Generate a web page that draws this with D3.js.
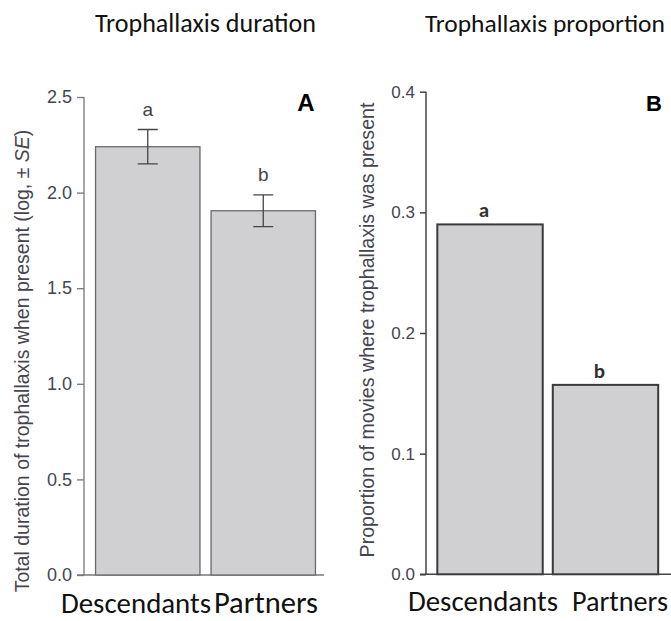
<!DOCTYPE html>
<html><head><meta charset="utf-8">
<script src="https://cdn.jsdelivr.net/npm/d3@7/dist/d3.min.js"></script>
<style>body{margin:0;background:#fff}svg{display:block}</style>
</head><body>
<script>
// ---- data ----
const categories = ["Descendants", "Partners"];
const durationMean = [2.24, 1.905];
const durationSE = [0.09, 0.083];
const durationLetters = ["a", "b"];
const proportion = [0.29, 0.157];
const proportionLetters = ["a", "b"];
const ticksA = [0, 0.5, 1.0, 1.5, 2.0, 2.5];
const ticksB = [0, 0.1, 0.2, 0.3, 0.4];

const W = 671, H = 621;
const svg = d3.select("body").append("svg").attr("width", W).attr("height", H);
const FILL = "#d0d0d2";
const TITLEFONT = "Carlito, Calibri, Lato, 'Open Sans', sans-serif";
const AXFONT = "'Liberation Sans', Arial, sans-serif";

function fit(t, target) {
  t.attr("font-size", 100);
  const w = t.node().getComputedTextLength();
  t.attr("font-size", 100 * target / w);
  return t;
}

// titles
fit(svg.append("text").attr("x", 95).attr("y", 32).attr("font-family", TITLEFONT)
  .attr("fill", "#111").text("Trophallaxis duration"), 221);
fit(svg.append("text").attr("x", 425).attr("y", 32).attr("font-family", TITLEFONT)
  .attr("fill", "#111").text("Trophallaxis proportion"), 240);

// ---------- Panel A ----------
const yA = d3.scaleLinear().domain([0, 2.5]).range([575, 97]);
const xA = d3.scaleBand().domain(categories).range([84, 327]).paddingInner(0.096).paddingOuter(0.1);
const gA = svg.append("g");
const axA = gA.append("g").attr("transform", "translate(84,0)")
  .call(d3.axisLeft(yA).tickValues(ticksA).tickFormat(d3.format(".1f")).tickSize(7).tickPadding(5));
axA.select(".domain").attr("stroke", "#777").attr("stroke-width", 1.3).attr("d", `M0,${yA(2.5)}V${yA(0)}`);
axA.selectAll(".tick line").attr("stroke", "#777").attr("stroke-width", 1.3);
axA.selectAll(".tick text").attr("font-family", AXFONT).attr("font-size", 18).attr("fill", "#454550");
gA.append("line").attr("x1", 77).attr("x2", 324).attr("y1", yA(0)).attr("y2", yA(0))
  .attr("stroke", "#777").attr("stroke-width", 1.3);
gA.selectAll("rect.bar").data(categories).join("rect").attr("class", "bar")
  .attr("x", d => xA(d)).attr("width", xA.bandwidth())
  .attr("y", (d, i) => yA(durationMean[i])).attr("height", (d, i) => yA(0) - yA(durationMean[i]))
  .attr("fill", FILL).attr("stroke", "#6a6a6a").attr("stroke-width", 1.3);
const capA = 10;
categories.forEach((c, i) => {
  const cx = xA(c) + xA.bandwidth() / 2;
  const hi = yA(durationMean[i] + durationSE[i]), lo = yA(durationMean[i] - durationSE[i]);
  gA.append("path").attr("d", `M${cx - capA},${hi}H${cx + capA}M${cx},${hi}V${lo}M${cx - capA},${lo}H${cx + capA}`)
    .attr("stroke", "#444").attr("stroke-width", 1.3).attr("fill", "none");
  gA.append("text").attr("x", cx).attr("y", hi - 14).attr("text-anchor", "middle")
    .attr("font-family", AXFONT).attr("font-size", 19).attr("fill", "#444").text(durationLetters[i]);
});
gA.append("text").attr("x", 306).attr("y", 111).attr("text-anchor", "middle")
  .attr("font-family", AXFONT).attr("font-weight", "bold").attr("font-size", 24).attr("fill", "#000").text("A");
const ylA = gA.append("text").attr("transform", "translate(29,361) rotate(-90)").attr("text-anchor", "middle")
  .attr("font-family", AXFONT).attr("fill", "#454550");
ylA.append("tspan").text("Total duration of trophallaxis when present (log, \u00b1 ");
ylA.append("tspan").attr("font-style", "italic").text("SE");
ylA.append("tspan").text(")");
fit(ylA, 463);
const xlabA = [{x: 61, w: 150}, {x: 214, w: 104}];
categories.forEach((c, i) => {
  fit(gA.append("text").attr("x", xlabA[i].x).attr("y", 613).attr("font-family", TITLEFONT)
    .attr("fill", "#111").text(c), xlabA[i].w);
});

// ---------- Panel B ----------
const yB = d3.scaleLinear().domain([0, 0.4]).range([574.3, 91.7]);
const xB = d3.scaleBand().domain(categories).range([426, 669.5]).paddingInner(0.087).paddingOuter(0.098);
const gB = svg.append("g");
const axB = gB.append("g").attr("transform", "translate(426,0)")
  .call(d3.axisLeft(yB).tickValues(ticksB).tickFormat(d3.format(".1f")).tickSize(6).tickPadding(5));
axB.select(".domain").attr("stroke", "#444").attr("stroke-width", 1.5).attr("d", `M0,${yB(0.4)}V${yB(0)}`);
axB.selectAll(".tick line").attr("stroke", "#444").attr("stroke-width", 1.5);
axB.selectAll(".tick text").attr("font-family", AXFONT).attr("font-size", 17).attr("fill", "#454550");
gB.append("line").attr("x1", 420).attr("x2", 671).attr("y1", yB(0)).attr("y2", yB(0))
  .attr("stroke", "#444").attr("stroke-width", 1.5);
gB.selectAll("rect.bar").data(categories).join("rect").attr("class", "bar")
  .attr("x", d => xB(d)).attr("width", xB.bandwidth())
  .attr("y", (d, i) => yB(proportion[i])).attr("height", (d, i) => yB(0) - yB(proportion[i]))
  .attr("fill", FILL).attr("stroke", "#3a3a3a").attr("stroke-width", 2);
categories.forEach((c, i) => {
  const cx = xB(c) + xB.bandwidth() / 2;
  gB.append("text").attr("x", cx - 6).attr("y", yB(proportion[i]) - 7).attr("text-anchor", "middle")
    .attr("font-family", TITLEFONT).attr("font-weight", "bold").attr("font-size", 21).attr("fill", "#333").text(proportionLetters[i]);
});
gB.append("text").attr("x", 654).attr("y", 111).attr("text-anchor", "middle")
  .attr("font-family", AXFONT).attr("font-weight", "bold").attr("font-size", 22).attr("fill", "#000").text("B");
const ylB = gB.append("text").attr("transform", "translate(374,330) rotate(-90)").attr("text-anchor", "middle")
  .attr("font-family", AXFONT).attr("fill", "#454550").text("Proportion of movies where trophallaxis was present");
fit(ylB, 455);
const xlabB = [{x: 408, w: 150}, {x: 572, w: 96}];
categories.forEach((c, i) => {
  fit(gB.append("text").attr("x", xlabB[i].x).attr("y", 611).attr("font-family", TITLEFONT)
    .attr("fill", "#111").text(c), xlabB[i].w);
});
</script>
</body></html>
